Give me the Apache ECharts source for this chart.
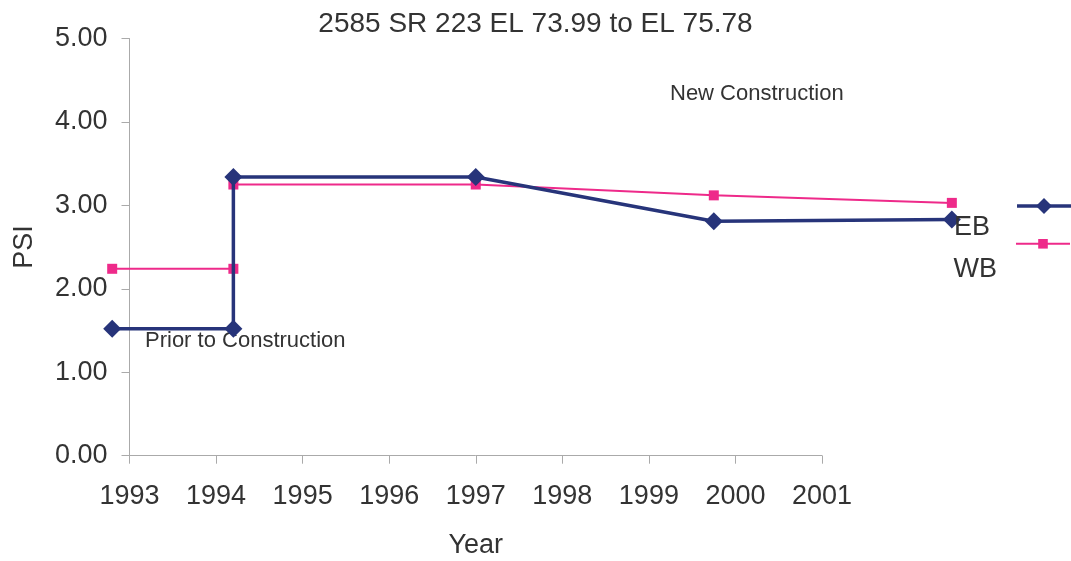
<!DOCTYPE html>
<html style="height: 100%;">
<head>
    <meta charset="utf-8">
    <title>2585 SR 223 PSI</title>
    <script type="text/javascript" src="https://cdn.jsdelivr.net/npm/echarts@6/dist/echarts.min.js"></script>
</head>
<body style="height: 100%; margin: 0; background: #fff;">
    <div id="container" style="width: 1071px; height: 561px;"></div>
    <script type="text/javascript">
        // survey dates (decimal years) and PSI readings
        var years = [1992.8, 1994.2, 1994.2, 1997.0, 1999.75, 2002.5];
        var ebPsi = [1.52, 1.52, 3.34, 3.34, 2.81, 2.83];
        var wbPsi = [2.24, 2.24, 3.25, 3.25, 3.12, 3.03];
        var seriesNames = ['EB', 'WB'];

        var fontName = '"Liberation Sans", Arial, sans-serif';

        // plot area of the visible axes: 1993..2001 between x=129.5 and x=822
        var axisLeft = 129.5, axisRight = 822;
        var pxPerYear = (axisRight - axisLeft) / 8;
        // the points run past both ends of the axis, so they sit on a wider hidden grid
        var dataMin = 1992.6, dataMax = 2003;

        function pairs(xs, ys) {
            var out = [];
            for (var i = 0; i < xs.length; i++) {
                out.push([xs[i], ys[i]]);
            }
            return out;
        }

        // legend entry: label sits left of and a bit below its line icon
        function legendBox(name, left, top, dropPx, padRight, iconH, lineW) {
            return {
                orient: 'vertical',
                left: left,
                top: top,
                align: 'right',
                itemWidth: 54,
                itemHeight: iconH,
                lineStyle: { width: lineW },
                formatter: '{n|{name}}',
                textStyle: {
                    rich: {
                        n: { fontSize: 27, color: '#333', fontFamily: fontName, padding: [dropPx, padRight, 0, 0] }
                    }
                },
                data: [name]
            };
        }

        var dom = document.getElementById('container');
        var myChart = echarts.init(dom);

        var hiddenAxis = {
            show: false,
            axisLine: { show: false },
            axisTick: { show: false },
            axisLabel: { show: false },
            splitLine: { show: false }
        };

        var option = {
            animation: false,
            textStyle: { fontFamily: fontName },
            title: {
                text: '2585 SR 223 EL 73.99 to EL 75.78',
                left: 'center',
                top: 5,
                textStyle: { fontSize: 28, fontWeight: 'normal', color: '#333', fontFamily: fontName }
            },
            grid: [
                {
                    left: axisLeft - (1993 - dataMin) * pxPerYear,
                    right: 1071 - (axisLeft + (dataMax - 1993) * pxPerYear),
                    top: 38.5, bottom: 105.3,
                    outerBoundsMode: 'none'
                },
                {
                    left: axisLeft, right: 1071 - axisRight, top: 38.5, bottom: 105.3,
                    outerBoundsMode: 'none'
                }
            ],
            legend: [
                legendBox(seriesNames[0], 949, 193, 44, 22, 20, 3.5),
                legendBox(seriesNames[1], 948.5, 234, 52, 14, 12, 2)
            ],
            xAxis: [
                Object.assign({ type: 'value', gridIndex: 0, min: dataMin, max: dataMax }, hiddenAxis),
                {
                    type: 'value',
                    gridIndex: 1,
                    min: 1993,
                    max: 2001,
                    interval: 1,
                    name: 'Year',
                    nameLocation: 'middle',
                    nameGap: 76,
                    nameTextStyle: { fontSize: 27, color: '#333' },
                    axisLine: { lineStyle: { color: '#aaa', width: 1 } },
                    axisTick: { show: true, length: 8, lineStyle: { color: '#aaa' } },
                    axisLabel: {
                        fontSize: 27, color: '#333', margin: 27,
                        formatter: function (v) { return String(v); }
                    },
                    splitLine: { show: false }
                }
            ],
            yAxis: [
                Object.assign({ type: 'value', gridIndex: 0, min: 0, max: 5 }, hiddenAxis),
                {
                    type: 'value',
                    gridIndex: 1,
                    min: 0,
                    max: 5,
                    interval: 1,
                    name: 'PSI',
                    nameLocation: 'middle',
                    nameGap: 91,
                    nameTextStyle: { fontSize: 27, color: '#333' },
                    axisLine: { show: true, lineStyle: { color: '#aaa', width: 1 } },
                    axisTick: { show: true, length: 8, lineStyle: { color: '#aaa' } },
                    axisLabel: {
                        fontSize: 27, color: '#333', margin: 22,
                        formatter: function (v) { return v.toFixed(2); }
                    },
                    splitLine: { show: false }
                }
            ],
            graphic: [
                {
                    type: 'text', left: 670, top: 83,
                    style: { text: 'New Construction', fontSize: 22, fill: '#333', fontFamily: fontName }
                },
                {
                    type: 'text', left: 145, top: 330,
                    style: { text: 'Prior to Construction', fontSize: 22, fill: '#333', fontFamily: fontName }
                }
            ],
            series: [
                {
                    name: seriesNames[0],
                    type: 'line',
                    xAxisIndex: 0,
                    yAxisIndex: 0,
                    data: pairs(years, ebPsi),
                    symbol: 'diamond',
                    symbolSize: 18,
                    z: 3,
                    itemStyle: { color: '#27347a' },
                    lineStyle: { color: '#27347a', width: 3.5 }
                },
                {
                    name: seriesNames[1],
                    type: 'line',
                    xAxisIndex: 0,
                    yAxisIndex: 0,
                    data: pairs(years, wbPsi),
                    symbol: 'rect',
                    symbolSize: 10,
                    z: 2,
                    itemStyle: { color: '#ee2a8a' },
                    lineStyle: { color: '#ee2a8a', width: 2 }
                }
            ]
        };

        myChart.setOption(option);
    </script>
</body>
</html>
